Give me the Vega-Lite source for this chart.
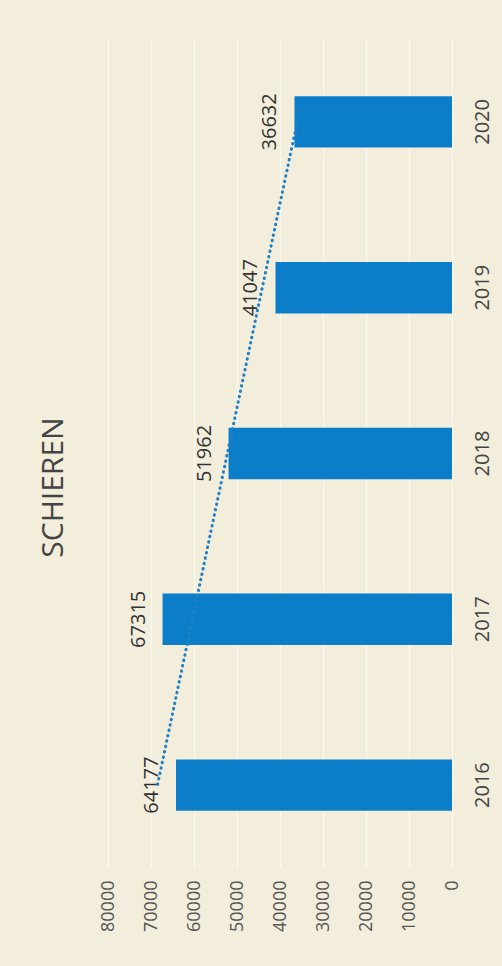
{
  "$schema": "https://vega.github.io/schema/vega-lite/v6.json",
  "width": 344,
  "height": 829,
  "autosize": {"type": "none"},
  "padding": {"left": 108, "top": 39, "right": 50, "bottom": 98},
  "background": "#f2eedb",
  "title": {
    "text": "SCHIEREN",
    "orient": "left",
    "anchor": "middle",
    "font": "Open Sans",
    "fontSize": 30,
    "fontWeight": "normal",
    "color": "#444444",
    "offset": 30,
    "dx": -34
  },
  "config": {
    "view": {"stroke": null},
    "font": "Open Sans"
  },
  "datasets": {
    "main": [
      {"year": "2016", "value": 64177},
      {"year": "2017", "value": 67315},
      {"year": "2018", "value": 51962},
      {"year": "2019", "value": 41047},
      {"year": "2020", "value": 36632}
    ],
    "trend": [
      {"year": "2016", "trend": 68500},
      {"year": "2020", "trend": 36000}
    ]
  },
  "layer": [
    {
      "data": {"name": "main"},
      "mark": {"type": "bar", "color": "#0b7dc9"},
      "encoding": {
        "x": {
          "field": "value",
          "type": "quantitative",
          "scale": {"domain": [0, 80000], "reverse": true, "nice": false},
          "axis": {
            "title": null,
            "values": [0, 10000, 20000, 30000, 40000, 50000, 60000, 70000, 80000],
            "format": "d",
            "grid": true,
            "gridColor": "#faf8f0",
            "gridWidth": 1.5,
            "domain": false,
            "ticks": false,
            "labelAngle": 270,
            "labelAlign": "right",
            "labelBaseline": "middle",
            "labelPadding": 12,
            "labelFontSize": 18,
            "labelColor": "#555555",
            "labelFont": "Open Sans"
          }
        },
        "y": {
          "field": "year",
          "type": "nominal",
          "scale": {
            "domain": ["2020", "2019", "2018", "2017", "2016"],
            "paddingInner": 0.69,
            "paddingOuter": 0.345
          },
          "axis": {
            "title": null,
            "orient": "right",
            "domain": false,
            "ticks": false,
            "grid": false,
            "labelAngle": 270,
            "labelAlign": "center",
            "labelBaseline": "top",
            "labelPadding": 20,
            "labelFontSize": 20,
            "labelColor": "#444444",
            "labelFont": "Open Sans"
          }
        }
      }
    },
    {
      "data": {"name": "main"},
      "mark": {
        "type": "text",
        "angle": 270,
        "align": "center",
        "baseline": "bottom",
        "dy": -14,
        "fontSize": 20,
        "color": "#333333",
        "font": "Open Sans"
      },
      "encoding": {
        "x": {"field": "value", "type": "quantitative"},
        "y": {"field": "year", "type": "nominal"},
        "text": {"field": "value", "type": "quantitative", "format": "d"}
      }
    },
    {
      "data": {"name": "trend"},
      "mark": {
        "type": "line",
        "color": "#1f80c8",
        "strokeWidth": 3,
        "strokeDash": [0.5, 5],
        "strokeCap": "round"
      },
      "encoding": {
        "x": {"field": "trend", "type": "quantitative"},
        "y": {"field": "year", "type": "nominal"}
      }
    }
  ]
}
